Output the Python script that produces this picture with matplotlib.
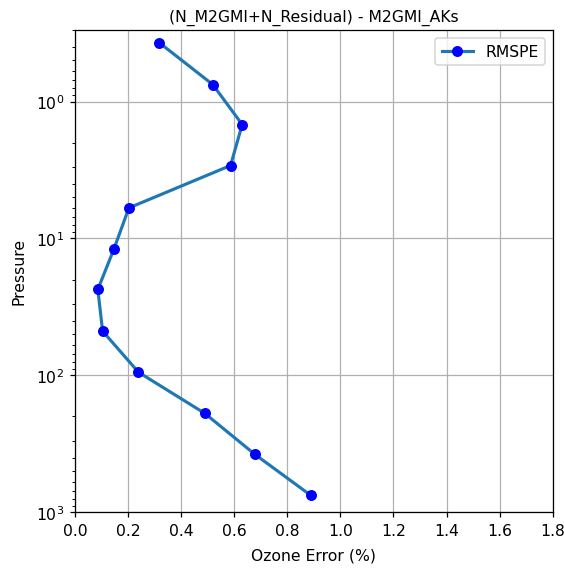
import numpy as np
import matplotlib.pyplot as plt

# RMSPE profile
pressure = [0.37, 0.75, 1.47, 2.93, 5.98, 11.9, 23.6, 47.6, 95, 190, 379, 757]
rmspe = [0.317, 0.519, 0.63, 0.586, 0.203, 0.147, 0.086, 0.104, 0.239, 0.489, 0.678, 0.889]

fig = plt.figure(figsize=(5.0, 5.05), dpi=112.8)
ax = fig.add_axes([0.133, 0.10, 0.847, 0.846])

ax.plot(rmspe, pressure, "-o", color="tab:blue", linewidth=2,
        markerfacecolor="blue", markeredgecolor="blue", markersize=6, label="RMSPE")
ax.set_yscale("log")
ax.set_ylim(1000, 0.3)
ax.set_xlim(0, 1.8)
ax.set_xticks(np.arange(0, 1.81, 0.2))
ax.grid(True)
ax.set_xlabel("Ozone Error (%)", labelpad=6)
ax.set_ylabel("Pressure", labelpad=6)
ax.set_title("(N_M2GMI+N_Residual) - M2GMI_AKs", fontsize=10)
ax.legend(loc="upper right")

fig.savefig("out.png", dpi=112.8)
